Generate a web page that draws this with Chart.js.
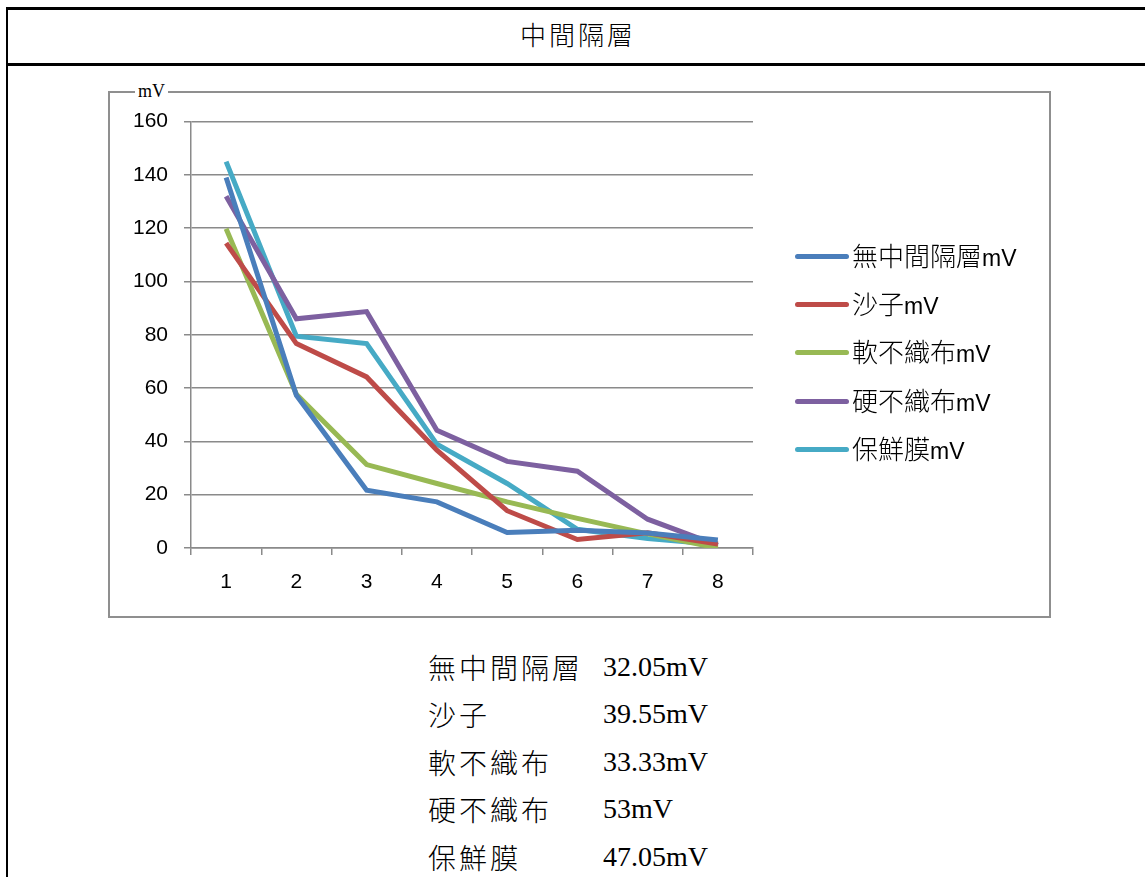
<!DOCTYPE html>
<html>
<head>
<meta charset="utf-8">
<script src="https://cdn.jsdelivr.net/npm/chart.js@4"></script>
<style>
  html, body { margin: 0; padding: 0; background: #fff; }
  body { width: 1145px; height: 877px; position: relative; overflow: hidden; }
  .line { position: absolute; background: #000; }
  #title {
    position: absolute; left: 8px; width: 1140px; top: 15px; text-align: center;
    font-family: "Noto Sans CJK TC", serif; font-size: 26px; font-weight: 300; color: #000; letter-spacing: 3px;
  }
  #frame {
    position: absolute; left: 108px; top: 91px; width: 939px; height: 523px;
    border: 2px solid #8f8f8f;
  }
  #chartWrap { position: absolute; left: 110px; top: 93px; width: 937px; height: 521px; }
  #unit {
    position: absolute; left: 135px; top: 80px; padding: 0 3px; background: #fff;
    font-family: "Liberation Serif", serif; font-size: 18px; color: #000; line-height: 22px;
  }
  #legend { position: absolute; left: 795px; top: 232px; }
  .item { height: 48.3px; display: flex; align-items: center; color: #000; }
  .item span.sw { display: inline-block; width: 54px; height: 5px; border-radius: 3px; margin-right: 3px; }
  .item span.tx { font-family: "Noto Sans CJK TC", sans-serif; font-size: 26px; font-weight: 300; line-height: 32px; }
  .item span.tx b { font-weight: normal; font-family: "Liberation Sans", sans-serif; font-size: 23px; }
  #avg { position: absolute; left: 428px; top: 643px; font-size: 28px; color: #000; }
  #avg .row { height: 47.5px; display: flex; align-items: center; }
  #avg .name { width: 175px; font-family: "Noto Sans CJK TC", serif; letter-spacing: 3px; font-weight: 300; }
  #avg .val { font-family: "Liberation Serif", serif; }
</style>
</head>
<body>
<div class="line" style="left:6px; top:7px; width:1139px; height:3px;"></div>
<div class="line" style="left:6px; top:7px; width:2px; height:870px;"></div>
<div class="line" style="left:6px; top:63px; width:1139px; height:3px;"></div>
<div id="title">中間隔層</div>
<div id="frame"></div>
<div id="chartWrap"><canvas id="myChart"></canvas></div>
<div id="unit">mV</div>
<div id="legend"></div>
<div id="avg"></div>
<script>
// trial number on the x axis
var labels = ['1', '2', '3', '4', '5', '6', '7', '8'];

// readings per intermediate layer (mV)
var noLayer = [139, 57.3, 21.7, 17.3, 5.8, 6.7, 5.6, 3];
var sand = [114.4, 76.7, 64.2, 36.7, 14, 3.2, 5.7, 1.5];
var softFabric = [119.8, 57.7, 31.3, 24.2, 17.3, 11.1, 5.3, 0];
var hardFabric = [132, 86, 88.7, 44.2, 32.5, 28.8, 10.8, 1];
var wrapFilm = [145, 79.5, 76.7, 39, 24.2, 7, 3.6, 1.3];

var seriesNames = ['無中間隔層mV', '沙子mV', '軟不織布mV', '硬不織布mV', '保鮮膜mV'];
var colors = ['#4a7ebb', '#be4b48', '#98b954', '#7d60a0', '#46aac5'];

// averages listed under the chart
var avgNames = ['無中間隔層', '沙子', '軟不織布', '硬不織布', '保鮮膜'];
var avgValues = ['32.05mV', '39.55mV', '33.33mV', '53mV', '47.05mV'];

var allSeries = [noLayer, sand, softFabric, hardFabric, wrapFilm];

var datasets = allSeries.map(function (vals, i) {
  return {
    label: seriesNames[i],
    data: vals,
    borderColor: colors[i],
    backgroundColor: colors[i],
    borderWidth: 5,
    pointRadius: 0,
    tension: 0,
    borderJoinStyle: 'miter',
    borderCapStyle: 'butt'
  };
});

var ctx = document.getElementById('myChart').getContext('2d');
var chart = new Chart(ctx, {
  type: 'line',
  data: { labels: labels, datasets: datasets },
  options: {
    responsive: true,
    maintainAspectRatio: false,
    animation: false,
    layout: { padding: { top: 28, right: 294, left: 0, bottom: 0 } },
    plugins: { legend: { display: false }, tooltip: { enabled: false } },
    scales: {
      x: {
        offset: true,
        grid: {
          offset: true,
          drawOnChartArea: false,
          drawTicks: true,
          tickLength: 7,
          color: '#8a8a8a',
          lineWidth: 1.5
        },
        border: { color: '#8a8a8a', width: 1.5 },
        ticks: {
          padding: 15,
          color: '#000',
          font: { family: 'Liberation Sans', size: 21 }
        },
        afterFit: function (scale) { scale.height = 66; }
      },
      y: {
        min: 0,
        max: 160,
        grid: { color: '#8a8a8a', lineWidth: 1.5, tickLength: 7 },
        border: { color: '#8a8a8a', width: 1.5 },
        ticks: {
          stepSize: 20,
          padding: 16,
          color: '#000',
          font: { family: 'Liberation Sans', size: 21 }
        },
        afterFit: function (scale) { scale.width = 81; }
      }
    }
  }
});

// legend
var legend = document.getElementById('legend');
seriesNames.forEach(function (name, i) {
  var item = document.createElement('div');
  item.className = 'item';
  var cjk = name.replace('mV', '');
  item.innerHTML = '<span class="sw" style="background:' + colors[i] + '"></span><span class="tx">' + cjk + '<b>mV</b></span>';
  legend.appendChild(item);
});

// averages
var avg = document.getElementById('avg');
avgNames.forEach(function (name, i) {
  var row = document.createElement('div');
  row.className = 'row';
  row.innerHTML = '<span class="name">' + name + '</span><span class="val">' + avgValues[i] + '</span>';
  avg.appendChild(row);
});
</script>
</body>
</html>
